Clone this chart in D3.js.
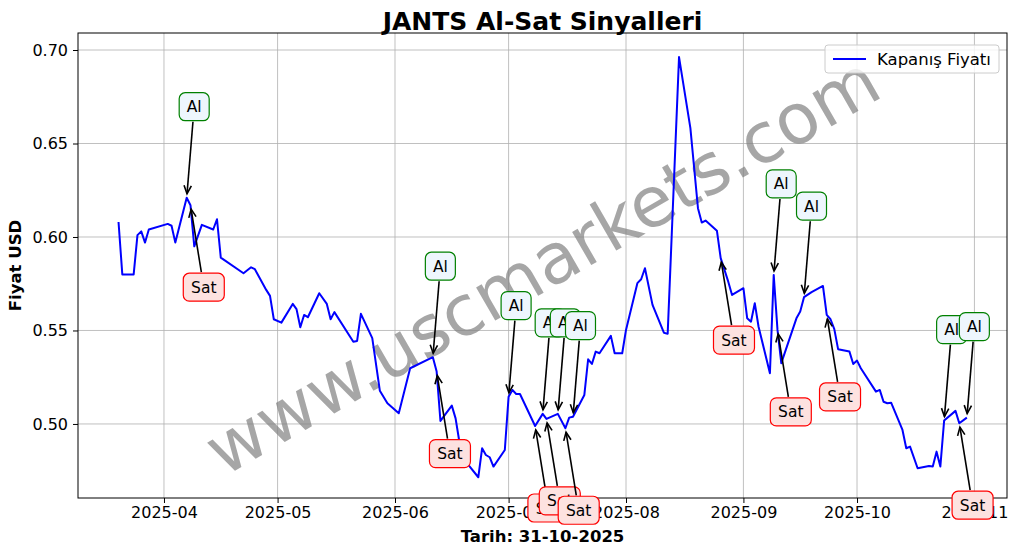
<!DOCTYPE html>
<html><head><meta charset="utf-8">
<script src="https://cdn.jsdelivr.net/npm/d3@7"></script>
<style>body{margin:0;background:#fff} svg{font-family:"DejaVu Sans",sans-serif}</style>
</head><body><svg id="c" width="1017" height="554"></svg>
<script>
const title = "JANTS Al-Sat Sinyalleri";
const xLabel = "Tarih: 31-10-2025";
const yLabel = "Fiyat USD";
const legendLabel = "Kapanış Fiyatı";
const watermark = "www.uscmarkets.com";

const dates = ["2025-03-20","2025-03-21","2025-03-24","2025-03-25","2025-03-26","2025-03-27","2025-03-28",
"2025-04-02","2025-04-03","2025-04-04","2025-04-07","2025-04-08","2025-04-09","2025-04-11","2025-04-14","2025-04-15","2025-04-16",
"2025-04-22","2025-04-24","2025-04-25","2025-04-28","2025-04-29","2025-04-30","2025-05-02","2025-05-05","2025-05-06","2025-05-07",
"2025-05-08","2025-05-09","2025-05-12","2025-05-14","2025-05-15","2025-05-16","2025-05-21","2025-05-22","2025-05-23","2025-05-26",
"2025-05-28","2025-05-30","2025-06-02","2025-06-05","2025-06-11","2025-06-12","2025-06-13","2025-06-16","2025-06-17","2025-06-18",
"2025-06-20","2025-06-23","2025-06-24","2025-06-25","2025-06-26","2025-06-27","2025-06-30","2025-07-01","2025-07-02","2025-07-03",
"2025-07-04","2025-07-08","2025-07-10","2025-07-11","2025-07-14","2025-07-16","2025-07-17","2025-07-18","2025-07-21","2025-07-22",
"2025-07-23","2025-07-24","2025-07-25","2025-07-28","2025-07-29","2025-07-31","2025-08-01","2025-08-04","2025-08-05","2025-08-06",
"2025-08-08","2025-08-11","2025-08-12","2025-08-15","2025-08-18","2025-08-20","2025-08-21","2025-08-22","2025-08-25","2025-08-26",
"2025-08-28","2025-08-29","2025-09-01","2025-09-02","2025-09-03","2025-09-04","2025-09-05","2025-09-08","2025-09-09","2025-09-10",
"2025-09-11","2025-09-15","2025-09-16","2025-09-17","2025-09-19","2025-09-22","2025-09-23","2025-09-24","2025-09-25","2025-09-26",
"2025-09-29","2025-09-30","2025-10-01","2025-10-02","2025-10-06","2025-10-07","2025-10-08","2025-10-09","2025-10-10","2025-10-13",
"2025-10-14","2025-10-15","2025-10-17","2025-10-20","2025-10-21","2025-10-22","2025-10-23","2025-10-24","2025-10-27","2025-10-28",
"2025-10-30"];
const closes = [0.608,0.580,0.580,0.601,0.603,0.597,0.604,
0.607,0.606,0.597,0.621,0.617,0.595,0.6065,0.604,0.6095,0.589,
0.5806,0.5838,0.5828,0.5717,0.5685,0.556,0.5542,0.5642,0.5614,0.5517,
0.5583,0.5571,0.5699,0.5642,0.556,0.5598,0.544,0.5444,0.5589,0.5459,
0.5178,0.5111,0.5057,0.5298,0.5357,0.528,0.5016,0.5098,0.503,0.4905,
0.479,0.4715,0.487,0.4834,0.4822,0.4772,0.4861,0.5146,0.5182,0.516,
0.516,0.4989,0.5054,0.5027,0.5054,0.4977,0.5034,0.5039,0.5155,0.5346,
0.5321,0.5387,0.5378,0.5471,0.5378,0.5378,0.5503,0.5753,0.5774,0.5833,
0.5637,0.5488,0.5482,0.6962,0.6582,0.6154,0.6077,0.6088,0.6034,0.5887,
0.5761,0.569,0.5726,0.5565,0.5547,0.5646,0.552,0.5271,0.5797,0.5503,
0.5325,0.5565,0.5601,0.5678,0.5705,0.5738,0.5583,0.556,0.5507,0.540,
0.5387,0.5321,0.5339,0.5298,0.5173,0.5182,0.5119,0.5111,0.5114,0.4968,
0.487,0.4879,0.4763,0.4775,0.4772,0.4852,0.4772,0.5018,0.507,0.5004,
0.5034];
const buyDates = ["2025-04-07","2025-06-11","2025-07-01","2025-07-10","2025-07-14","2025-07-18","2025-09-09","2025-09-17","2025-10-24","2025-10-30"];
const sellDates = ["2025-04-08","2025-06-12","2025-07-08","2025-07-11","2025-07-16","2025-08-26","2025-09-10","2025-09-23","2025-10-28"];
const buyText = "Al", sellText = "Sat";
const yTicks = [0.50,0.55,0.60,0.65,0.70];
const xTicks = ["2025-04-01","2025-05-01","2025-06-01","2025-07-01","2025-08-01","2025-09-01","2025-10-01","2025-11-01"];

const parse = d3.utcParse("%Y-%m-%d");
const data = dates.map((d,i)=>({date:parse(d), v:closes[i]}));
const byDate = new Map(dates.map((d,i)=>[d,closes[i]]));

const L=78,R=1007,T=33,B=498;
const day=864e5;
const apr1 = parse("2025-04-01").getTime();
const x = d3.scaleUtc().domain([new Date(apr1-22.7*day), new Date(apr1+222.6*day)]).range([L,R]);
const y = d3.scaleLinear().domain([0.4604,0.7091]).range([B,T]);

const svg = d3.select("#c");
svg.append("rect").attr("width",1017).attr("height",554).attr("fill","#fff");

// grid
const grid = svg.append("g");
xTicks.forEach(t=>{const px=x(parse(t)); grid.append("line").attr("x1",px).attr("x2",px).attr("y1",T).attr("y2",B).attr("stroke","#b0b0b0").attr("stroke-width",0.8);});
yTicks.forEach(t=>{const py=y(t); grid.append("line").attr("x1",L).attr("x2",R).attr("y1",py).attr("y2",py).attr("stroke","#b0b0b0").attr("stroke-width",0.8);});

// watermark
svg.append("text").attr("x",(L+R)/2).attr("y",(T+B)/2)
  .attr("transform",`rotate(-30,${(L+R)/2},${(T+B)/2})`)
  .attr("text-anchor","middle").attr("dominant-baseline","central")
  .attr("font-size",70).attr("fill","#808080").attr("fill-opacity",0.7).text(watermark);

// line
svg.append("clipPath").attr("id","cp").append("rect").attr("x",L).attr("y",T).attr("width",R-L).attr("height",B-T);
svg.append("path").datum(data).attr("clip-path","url(#cp)")
  .attr("d",d3.line().x(d=>x(d.date)).y(d=>y(d.v)))
  .attr("fill","none").attr("stroke","#0000ff").attr("stroke-width",2).attr("stroke-linejoin","round");

// axes
const xAxis = d3.axisBottom(x).tickValues(xTicks.map(parse)).tickFormat(d3.utcFormat("%Y-%m")).tickSize(5).tickPadding(4);
const gx = svg.append("g").attr("transform",`translate(0,${B})`).call(xAxis);
gx.select(".domain").remove();
gx.selectAll("text").attr("font-size",16).attr("font-family","DejaVu Sans").attr("fill","#000");
const yAxis = d3.axisLeft(y).tickValues(yTicks).tickFormat(d3.format(".2f")).tickSize(5).tickPadding(5);
const gy = svg.append("g").attr("transform",`translate(${L},0)`).call(yAxis);
gy.select(".domain").remove();
gy.selectAll("text").attr("font-size",16).attr("font-family","DejaVu Sans").attr("fill","#000");
svg.append("rect").attr("x",L).attr("y",T).attr("width",R-L).attr("height",B-T).attr("fill","none").attr("stroke","#000").attr("stroke-width",1);

// labels
svg.append("text").attr("x",(L+R)/2).attr("y",30).attr("text-anchor","middle").attr("font-size",25).attr("font-weight","bold").text(title);
svg.append("text").attr("x",(L+R)/2).attr("y",542).attr("text-anchor","middle").attr("font-size",16.5).attr("font-weight","bold").text(xLabel);
svg.append("text").attr("transform",`translate(21,${(T+B)/2}) rotate(-90)`).attr("text-anchor","middle").attr("font-size",16.5).attr("font-weight","bold").text(yLabel);

// annotations
const signals = [];
buyDates.forEach(d=>signals.push({d, v:byDate.get(d), type:"buy"}));
sellDates.forEach(d=>signals.push({d, v:byDate.get(d), type:"sell"}));
signals.sort((a,b)=>d3.ascending(a.d,b.d) || (a.type==="buy"?-1:1));
const ann = svg.append("g");
signals.forEach(s=>{
  const px=x(parse(s.d)), py=y(s.v);
  const buy = s.type==="buy";
  const cx = px + (buy?7.5:13.3), cy = py + (buy?-91:82);
  const txt = buy?buyText:sellText;
  const w = buy?30:41, h=28;
  const dx=px-cx, dy=py-cy, len=Math.hypot(dx,dy), ux=dx/len, uy=dy/len;
  const tStart = Math.min((w/2+1)/Math.abs(ux||1e-9),(h/2+1)/Math.abs(uy||1e-9));
  const sx=cx+ux*tStart, sy=cy+uy*tStart;
  const ex=px-ux*4, ey=py-uy*4;
  const g=ann.append("g");
  g.append("line").attr("x1",sx).attr("y1",sy).attr("x2",ex).attr("y2",ey).attr("stroke","#000").attr("stroke-width",1.6);
  const hl=9, ang=0.42, a=Math.atan2(uy,ux);
  g.append("path").attr("d",`M${ex-hl*Math.cos(a-ang)},${ey-hl*Math.sin(a-ang)}L${ex},${ey}L${ex-hl*Math.cos(a+ang)},${ey-hl*Math.sin(a+ang)}`)
    .attr("fill","none").attr("stroke","#000").attr("stroke-width",1.6);
  g.append("rect").attr("x",cx-w/2).attr("y",cy-h/2).attr("width",w).attr("height",h).attr("rx",6)
    .attr("fill",buy?"#eef6fd":"#fde2e0").attr("stroke",buy?"#008000":"#ff0000").attr("stroke-width",1.2);
  g.append("text").attr("x",cx).attr("y",cy+5.5).attr("text-anchor","middle").attr("font-size",15.5).text(txt);
});

// legend
const lg = svg.append("g");
lg.append("rect").attr("x",825).attr("y",45).attr("width",174).attr("height",28).attr("rx",3)
  .attr("fill","#fff").attr("fill-opacity",0.8).attr("stroke","#cccccc");
lg.append("line").attr("x1",833).attr("x2",866).attr("y1",59).attr("y2",59).attr("stroke","#0000ff").attr("stroke-width",2);
lg.append("text").attr("x",877).attr("y",65).attr("font-size",16.5).text(legendLabel);
</script></body></html>
